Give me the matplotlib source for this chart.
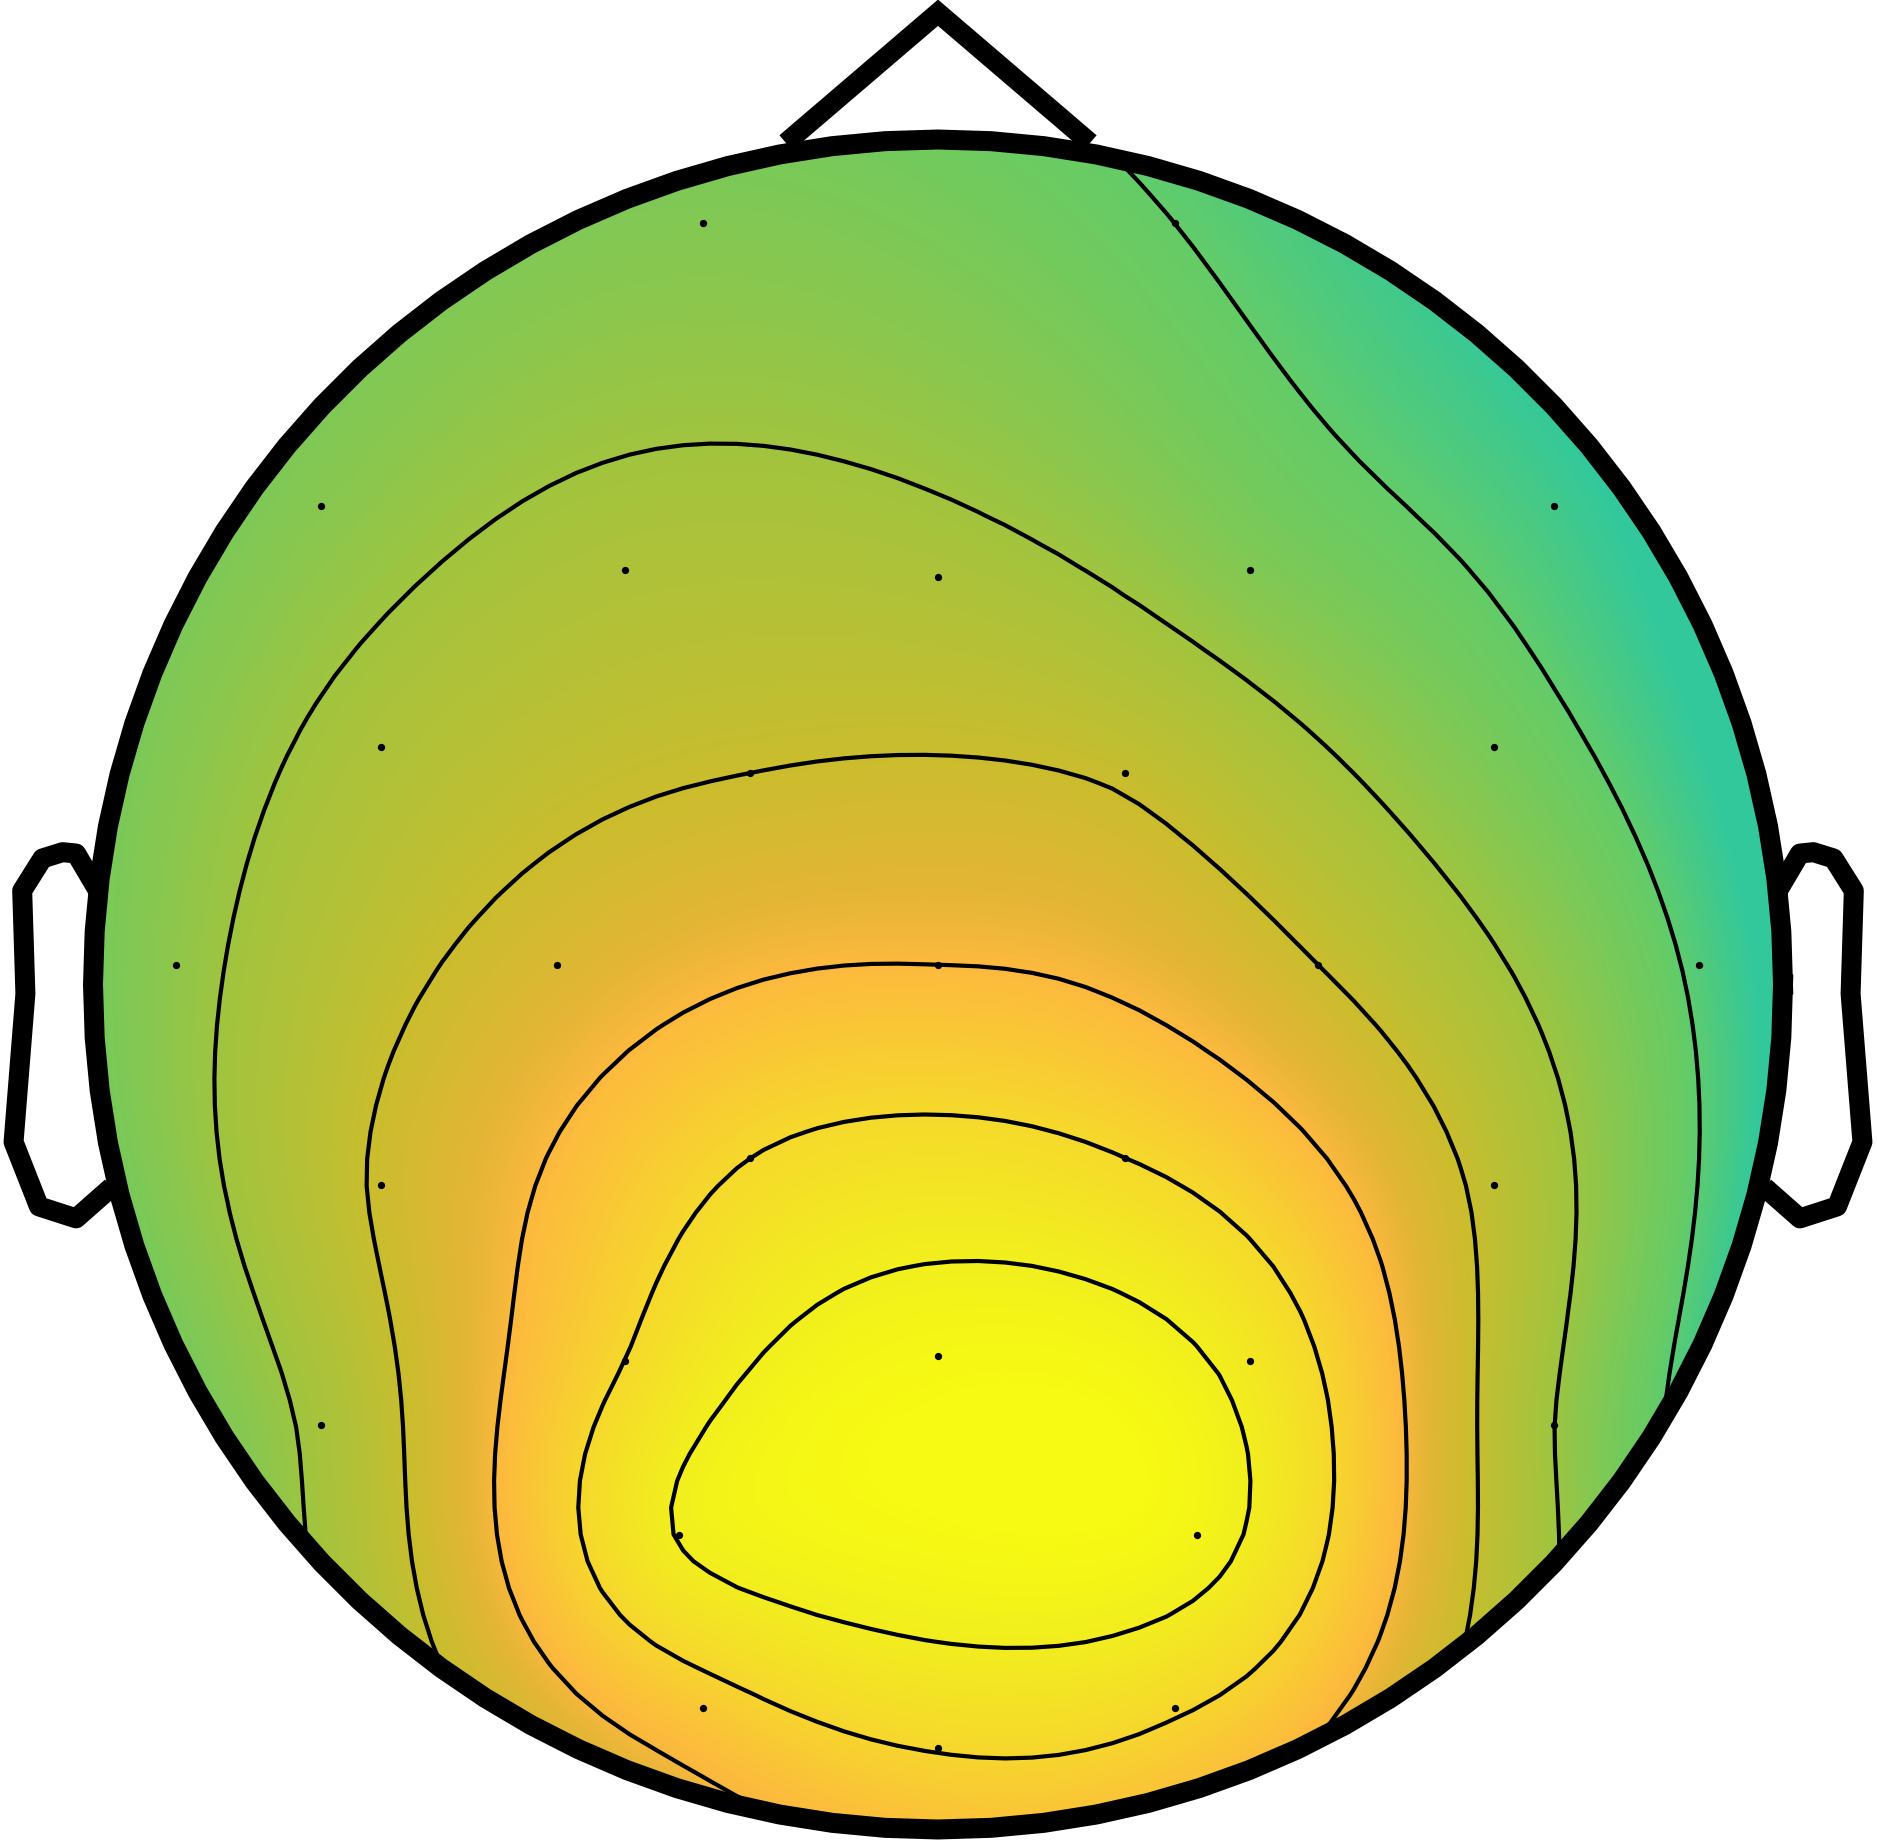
import numpy as np
import matplotlib
matplotlib.use('Agg')
import matplotlib.pyplot as plt
from matplotlib.colors import LinearSegmentedColormap
from matplotlib.patches import Circle

# channel layout (head radius = 1, nose up) and values
ch_names = ['Fp1', 'Fp2', 'F7', 'F3', 'Fz', 'F4', 'F8',
            'FC5', 'FC1', 'FC2', 'FC6',
            'T7', 'C3', 'Cz', 'C4', 'T8',
            'CP5', 'CP1', 'CP2', 'CP6',
            'P7', 'P3', 'Pz', 'P4', 'P8',
            'PO3', 'PO4', 'O1', 'Oz', 'O2']
ch_x = [-0.278, 0.280, -0.730, -0.371, 0.000, 0.369, 0.729,
        -0.659, -0.222, 0.221, 0.658,
        -0.902, -0.451, 0.000, 0.450, 0.900,
        -0.659, -0.222, 0.221, 0.658,
        -0.730, -0.371, 0.000, 0.369, 0.729,
        -0.307, 0.307, -0.278, 0.000, 0.280]
ch_y = [0.901, 0.901, 0.566, 0.491, 0.482, 0.491, 0.566,
        0.281, 0.250, 0.250, 0.281,
        0.023, 0.023, 0.023, 0.023, 0.023,
        -0.237, -0.205, -0.205, -0.237,
        -0.521, -0.446, -0.440, -0.446, -0.521,
        -0.651, -0.651, -0.856, -0.903, -0.856]
ch_val = [1.5, 1.0, 1.6, 2.3, 2.28, 1.5, 0.7,
          2.3, 3.0, 2.9, 1.35,
          1.75, 3.4, 4.0, 3.0, 0.9,
          3.1, 5.0, 5.0, 2.75,
          2.2, 5.0, 6.5, 5.7, 2.0,
          6.05, 6.4, 4.6, 5.05, 5.1]
levels = [1, 2, 3, 4, 5, 6]
vmin, vmax = 0.5, 6.7

cmap_vals = [0.5, 1.0, 2.0, 3.0, 3.6, 4.0, 5.0, 6.0, 6.7]
cmap_cols = ['#33c89c', '#66cc66', '#a3c43e', '#cbbd2e', '#e4b536',
             '#fdba3e', '#f6d92c', '#f2ef1e', '#f7fa12']
cmap = LinearSegmentedColormap.from_list(
    'topo', [((v - vmin) / (vmax - vmin), c) for v, c in zip(cmap_vals, cmap_cols)])

# head outline
head_t = np.linspace(0, 2 * np.pi, 101)
nose_x = [-0.18, 0, 0.18]
nose_y = [0.996, 1.15, 0.996]
ear_x = np.array([.497, .510, .518, .5299, .5419, .54, .547, .532, .510, .489]) * 2
ear_y = np.array([.0555, .0775, .0783, .0746, .0555, -.0055, -.0932, -.1313, -.1384, -.1199]) * 2


def tps_kernel(d):
    with np.errstate(divide='ignore', invalid='ignore'):
        k = d ** 2 * np.log(d)
    return np.nan_to_num(k)


# thin plate spline through the channel values
px = np.array(ch_x)
py = np.array(ch_y)
pv = np.array(ch_val)
n = len(px)
K = tps_kernel(np.hypot(px[:, None] - px[None, :], py[:, None] - py[None, :]))
P = np.column_stack([np.ones(n), px, py])
A = np.block([[K, P], [P.T, np.zeros((3, 3))]])
w = np.linalg.solve(A, np.concatenate([pv, np.zeros(3)]))

res = 64
gx = np.linspace(-1, 1, res)
Xi, Yi = np.meshgrid(gx, gx)
Kg = tps_kernel(np.hypot(Xi.ravel()[:, None] - px[None, :],
                         Yi.ravel()[:, None] - py[None, :]))
Zi = (Kg @ w[:n] + w[n] + w[n + 1] * Xi.ravel() + w[n + 2] * Yi.ravel()).reshape(res, res)

fig = plt.figure(figsize=(18.77, 18.45), dpi=100)
ax = fig.add_axes([0, 0, 1, 1])
ax.set_axis_off()
ax.set_xlim(-938 / 845, (1877 - 938) / 845)
ax.set_ylim(-(1845 - 984.5) / 845, 984.5 / 845)

clip = Circle((0, 0), 1.0, transform=ax.transData)
im = ax.imshow(Zi, extent=(-1, 1, -1, 1), origin='lower', cmap=cmap,
               vmin=vmin, vmax=vmax, interpolation='bilinear', aspect='auto', zorder=1)
im.set_clip_path(clip)
cs = ax.contour(Xi, Yi, Zi, levels=levels, colors='k', linewidths=3.0,
                linestyles='solid', zorder=2)
cs.set_clip_path(clip)

ax.scatter(px, py, s=18, c='k', zorder=3)

ax.plot(np.cos(head_t), np.sin(head_t), color='k', lw=14.4, zorder=4)
ax.plot(nose_x, nose_y, color='k', lw=14.4, solid_capstyle='butt',
        solid_joinstyle='miter', zorder=4)
ax.plot(ear_x, ear_y, color='k', lw=14.4, solid_capstyle='butt', zorder=4)
ax.plot(-ear_x, ear_y, color='k', lw=14.4, solid_capstyle='butt', zorder=4)

fig.savefig('out.png', dpi=100, facecolor='white')
